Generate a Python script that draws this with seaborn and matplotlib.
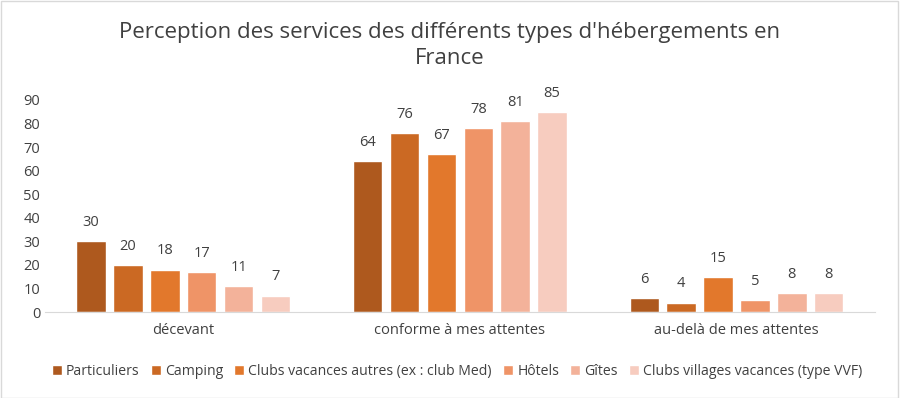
import matplotlib
matplotlib.use("Agg")
import matplotlib.pyplot as plt
import seaborn as sns
import pandas as pd

categories = ["décevant", "conforme à mes attentes", "au-delà de mes attentes"]
series = ["Particuliers", "Camping", "Clubs vacances autres (ex : club Med)",
          "Hôtels", "Gîtes", "Clubs villages vacances (type VVF)"]
values = {
    "Particuliers": [30, 64, 6],
    "Camping": [20, 76, 4],
    "Clubs vacances autres (ex : club Med)": [18, 67, 15],
    "Hôtels": [17, 78, 5],
    "Gîtes": [11, 81, 8],
    "Clubs villages vacances (type VVF)": [7, 85, 8],
}
colors = ["#AE591E", "#CB6923", "#E2782C", "#EF9467", "#F3B29A", "#F7CCBF"]

rows = []
for s in series:
    for c, v in zip(categories, values[s]):
        rows.append({"cat": c, "type": s, "val": v})
df = pd.DataFrame(rows)

sns.set_style("white")
plt.rcParams["font.family"] = ["Open Sans", "DejaVu Sans"]

fig = plt.figure(figsize=(9, 3.98), dpi=100)
ax = fig.add_axes([0.05, 0.216, 0.922, 0.533])

sns.barplot(data=df, x="cat", y="val", hue="type", hue_order=series,
            palette=colors, saturation=1, width=0.8, gap=0.2, ax=ax, legend=True)

for cont in ax.containers:
    ax.bar_label(cont, padding=8, fontsize=10.5, color="#404040")

ax.set_ylim(0, 90)
ax.set_yticks(range(0, 91, 10))
ax.set_xlim(-0.5, 2.5)
ax.set_xlabel("")
ax.set_ylabel("")
ax.tick_params(axis="both", labelsize=10.5, colors="#404040", length=0)
ax.tick_params(axis="x", pad=8)
for side in ["top", "right", "left"]:
    ax.spines[side].set_visible(False)
ax.spines["bottom"].set_color("#D9D9D9")

fig.suptitle("Perception des services des différents types d'hébergements en\nFrance",
             y=0.945, fontsize=16, color="#404040", linespacing=1.3)

h, l = ax.get_legend_handles_labels()
ax.get_legend().remove()
fig.legend(h, l, loc="center", bbox_to_anchor=(0.508, 0.067), ncol=6, frameon=False,
           fontsize=10.1, handlelength=0.7, handleheight=0.7, handletextpad=0.3,
           columnspacing=0.8, labelcolor="#404040")

fig.patches.append(plt.Rectangle((0.001, 0.001), 0.997, 0.996, transform=fig.transFigure,
                                 fill=False, edgecolor="#D9D9D9", linewidth=1))

fig.savefig("out.png", dpi=100)
